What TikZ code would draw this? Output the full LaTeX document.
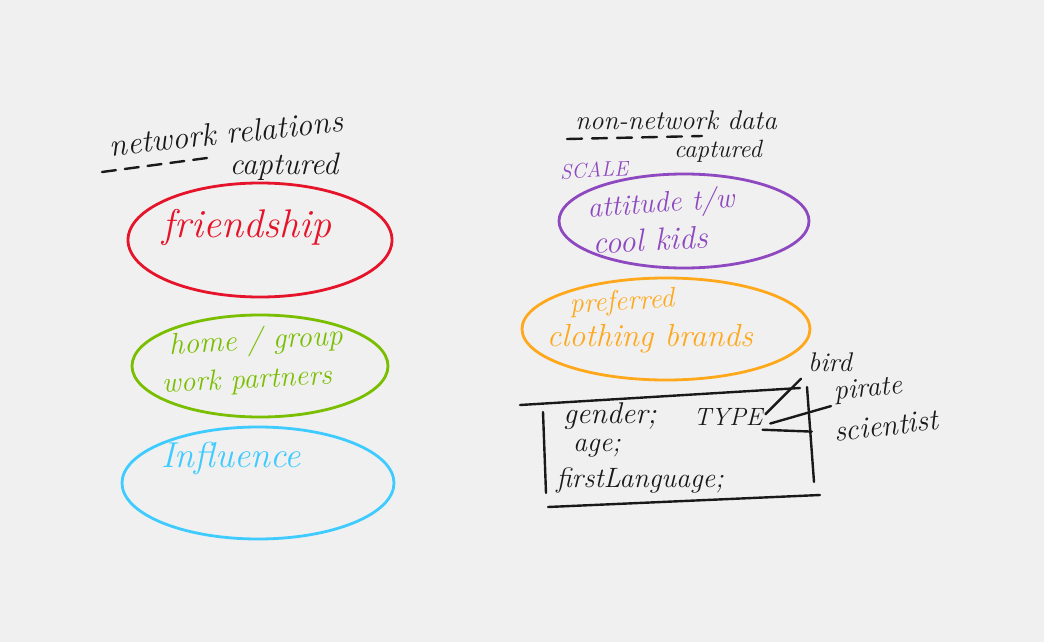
\documentclass[tikz,border=0pt]{standalone}
\usepackage{xcolor}
\usepackage{tikz}
\usetikzlibrary{positioning}
\definecolor{paper}{RGB}{240,240,240}
\definecolor{inkred}{RGB}{230,20,42}
\definecolor{inkgreen}{RGB}{122,190,0}
\definecolor{inkblue}{RGB}{62,203,255}
\definecolor{inkpurple}{RGB}{142,72,192}
\definecolor{inkorange}{RGB}{255,168,28}
\definecolor{inkblack}{RGB}{25,25,25}

\begin{document}
\begin{tikzpicture}[
  x=1pt,y=-1pt,
  hand/.style={inner sep=0pt,font=\fontsize{#1}{#1}\selectfont\itshape},
  hand/.default=26,
  note/.style={hand=#1,text=inkblack},
  note/.default=24,
  ring/.style={line width=2.8pt},
  stroke/.style={line width=2.4pt,draw=inkblack,line cap=round},
  dashline/.style={stroke,dash pattern=on 14pt off 9pt}
]
  \fill[paper] (0,0) rectangle (1044,642);
  \useasboundingbox (0,0) rectangle (1044,642);

  % left column: network relations
  \node[note=32,rotate=6] (nettitle) at (226,133) {network relations};
  \node[note=31] (netcap) at (284,167) {captured};
  \draw[dashline] (102,172) -- (207,158);

  \draw[ring,inkred] (260,240) ellipse [x radius=132, y radius=57];
  \node[hand=40,text=inkred] (friend) at (247,227) {friendship};

  \draw[ring,inkgreen] (260,366) ellipse [x radius=128, y radius=51];
  \node[hand=30,text=inkgreen,rotate=3] (home) at (256,342) {home / group};
  \node[hand=29,text=inkgreen,rotate=3] (work) at (247,381) {work partners};

  \draw[ring,inkblue] (258,483) ellipse [x radius=136, y radius=56];
  \node[hand=36,text=inkblue] (influ) at (231,458) {Influence};

  % right column: non-network data
  \node[note=27] (nontitle) at (676,120) {non-network data};
  \node[note=25] (noncap) at (718,151) {captured};
  \draw[dashline,dash pattern=on 15pt off 10pt] (567,139) -- (702,136);

  \node[hand=21,text=inkpurple,rotate=3] (scale) at (594,170) {SCALE};
  \draw[ring,inkpurple] (684,221) ellipse [x radius=125, y radius=47];
  \node[hand=29,text=inkpurple,rotate=4] (attitude) at (661,205) {attitude t/w};
  \node[hand=32,text=inkpurple,rotate=3] (coolkids) at (650,240) {cool kids};

  \draw[ring,inkorange] (666,329) ellipse [x radius=144, y radius=51];
  \node[hand=28,text=inkorange,rotate=3] (preferred) at (622,303) {preferred};
  \node[hand=32,text=inkorange] (clothing) at (650,339) {clothing brands};

  % attribute box
  \draw[stroke] (520,405) -- (800,388);
  \draw[stroke] (543,412) -- (546,493);
  \draw[stroke] (807,387) -- (814,482);
  \draw[stroke] (548,507) -- (820,495);

  \node[note=30] (gender) at (610,416) {gender;};
  \node[note=25] (type) at (728,417) {TYPE};
  \node[note=28] (age) at (597,448) {age;};
  \node[note=28] (firstlang) at (640,480) {firstLanguage;};

  \node[note=27] (bird) at (830,362) {bird};
  \node[note=28,rotate=5] (pirate) at (868,390) {pirate};
  \node[note=30,rotate=7] (scientist) at (886,426) {scientist};

  \draw[stroke,shorten <=4pt,shorten >=10pt] (type.east) -- (bird.south west);
  \draw[stroke,shorten <=8pt,shorten >=4pt] (type.south east) -- (pirate.south west);
  \draw[stroke,shorten <=0pt,shorten >=22pt] ([yshift=-4pt]type.south east) -- (scientist.west);
\end{tikzpicture}
\end{document}
